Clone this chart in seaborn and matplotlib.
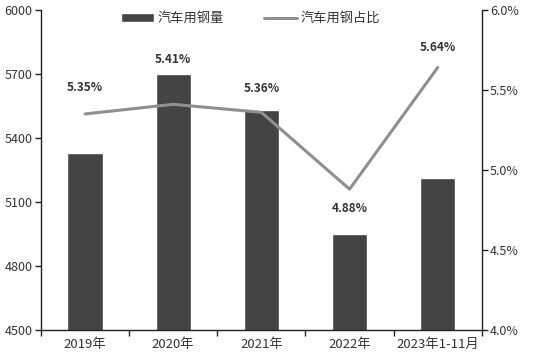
import matplotlib
matplotlib.use("Agg")
import matplotlib.pyplot as plt
import seaborn as sns
import pandas as pd
from matplotlib.ticker import FuncFormatter, FixedLocator

categories = ["2019年", "2020年", "2021年", "2022年", "2023年1-11月"]
steel_volume = [5330, 5700, 5530, 4950, 5213]
steel_share = [5.35, 5.41, 5.36, 4.88, 5.64]
share_labels = ["5.35%", "5.41%", "5.36%", "4.88%", "5.64%"]
label_offsets_px = [26, 45, 24, -19, 20]

sns.set_theme(style="white")
plt.rcParams['font.family'] = ['Noto Sans CJK SC', 'DejaVu Sans']

df = pd.DataFrame({"cat": categories, "vol": steel_volume, "share": steel_share})

fig = plt.figure(figsize=(5.5, 3.53), dpi=100)
ax = fig.add_axes([0.0745, 0.065, 0.8015, 0.907])
bar_color = "#444444"
line_color = "#8f8f8f"
text_color = "#333333"

sns.barplot(data=df, x="cat", y="vol", color=bar_color, width=0.4, ax=ax,
            saturation=1, label="汽车用钢量")
ax.set_ylim(4500, 6000)
ax.set_yticks([4500, 4800, 5100, 5400, 5700, 6000])
ax.set_xlim(-0.5, len(categories) - 0.5)
ax.set_xlabel("")
ax.set_ylabel("")

ax2 = ax.twinx()
sns.lineplot(x=list(range(len(categories))), y=steel_share, ax=ax2, color=line_color,
             linewidth=2.2, label="汽车用钢占比", legend=False)
ax2.set_ylim(4.0, 6.0)
ax2.set_yticks([4.0, 4.5, 5.0, 5.5, 6.0])
ax2.yaxis.set_major_formatter(FuncFormatter(lambda v, p: f"{v:.1f}%"))
ax2.set_ylabel("")

for i, (v, lab, off) in enumerate(zip(steel_share, share_labels, label_offsets_px)):
    ax2.annotate(lab, xy=(i, v), xytext=(0, off * 0.72), textcoords="offset points",
                 ha="center", va="center", fontsize=8.5, fontweight="bold", color=text_color)

for a in (ax, ax2):
    for s in a.spines.values():
        s.set_visible(False)
ax.spines["left"].set_visible(True)
ax.spines["bottom"].set_visible(True)
ax2.spines["right"].set_visible(True)
for s in (ax.spines["left"], ax.spines["bottom"], ax2.spines["right"]):
    s.set_color("#222222")
    s.set_linewidth(1.0)

ax.tick_params(axis="y", which="both", left=True, length=4, width=1, color="#222222",
               labelsize=9, labelcolor=text_color, pad=2)
ax2.tick_params(axis="y", which="both", right=True, length=4, width=1, color="#222222",
                labelsize=9, labelcolor=text_color, pad=2)
# x ticks between categories
ax.tick_params(axis="x", which="major", bottom=False, labelsize=9.5, labelcolor=text_color, pad=0)
ax.xaxis.set_minor_locator(FixedLocator([i - 0.5 for i in range(len(categories) + 1)]))
ax.tick_params(axis="x", which="minor", bottom=True, length=4, width=1, color="#222222")

h1, l1 = ax.get_legend_handles_labels()
h2, l2 = ax2.get_legend_handles_labels()
if ax.get_legend() is not None:
    ax.get_legend().remove()
leg = ax2.legend(h1 + h2, l1 + l2, loc="upper center", bbox_to_anchor=(0.475, 1.03),
                 ncol=2, frameon=False, fontsize=9.5, handlelength=2.5, handleheight=0.7,
                 columnspacing=3.0, handletextpad=0.3)
for t in leg.get_texts():
    t.set_color(text_color)

fig.savefig("out.png", dpi=100)
